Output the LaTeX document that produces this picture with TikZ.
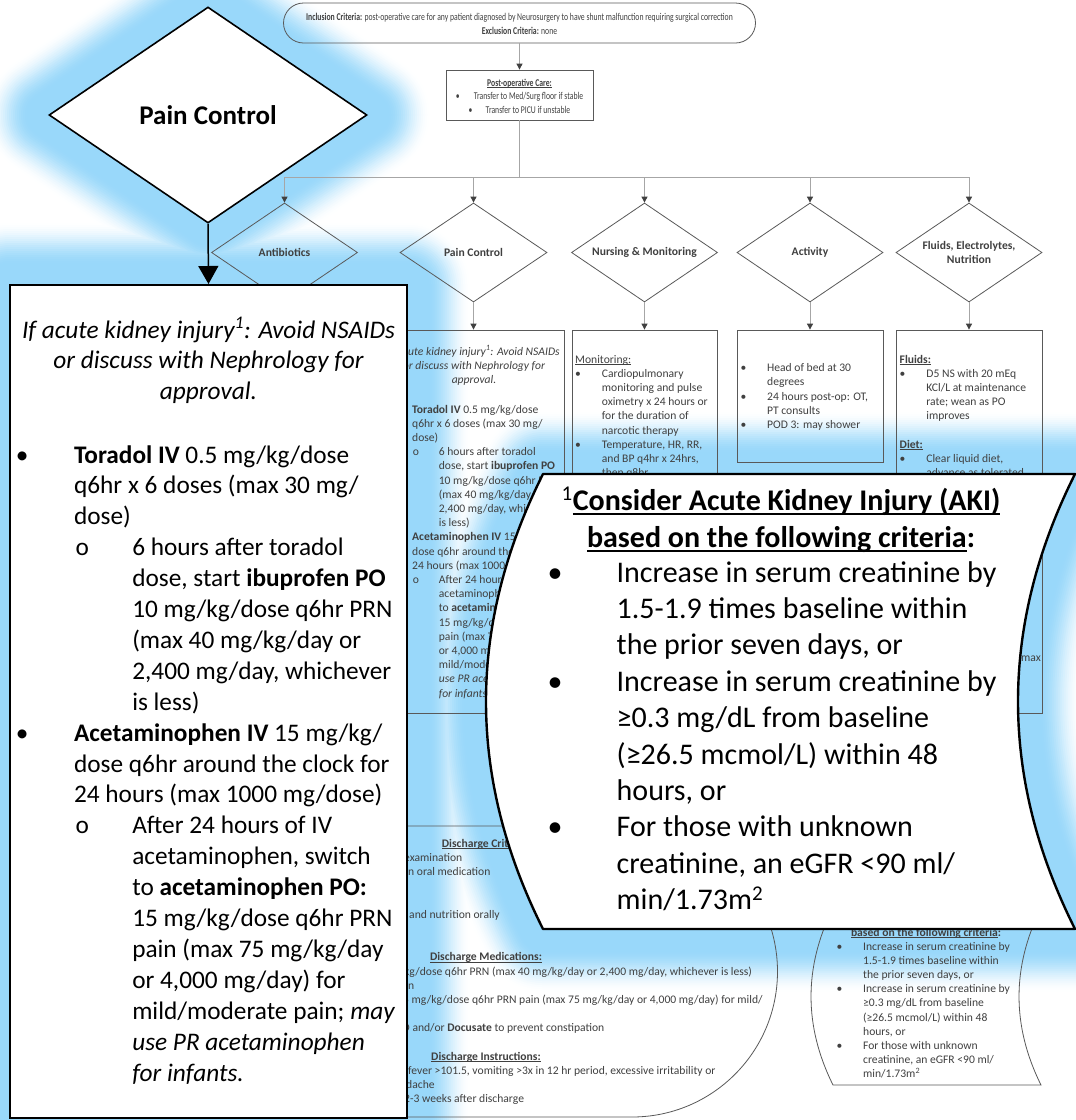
\documentclass[tikz,border=0pt]{standalone}
\usepackage{fontspec}
\setmainfont{Carlito}
\newfontfamily\narrowf[FakeStretch=0.74]{Carlito}
\usetikzlibrary{arrows.meta,shapes.geometric}
\definecolor{glowc}{RGB}{153,216,250}
\definecolor{txtc}{RGB}{64,64,64}
\definecolor{bordc}{RGB}{89,89,89}
\definecolor{connc}{RGB}{166,166,166}

\newcommand\xBu{\makebox[2.3em][l]{\textbullet}}
\newcommand\xIn{\hspace*{2.3em}}
\newcommand\xOo{\hspace*{2.36em}\makebox[2.24em][l]{o}}
\newcommand\xJn{\hspace*{4.6em}}
\newcommand\ulx[1]{\leavevmode\setbox0\hbox{#1}\rlap{\rule[-0.17em]{\wd0}{0.07em}}\box0}
\newcommand\tblock[6]{\foreach \xtl [count=\xti] in #6 {\node[#1] (#2\xti) at (#3,{#4+(\xti-1)*(#5)}) {\xtl};}}

\newcommand\painhead{{If acute kidney injury\textsuperscript{1}: Avoid NSAIDs},{or discuss with Nephrology for},{approval.}}
\newcommand\painlist{{\xBu\textbf{Toradol IV} 0.5 mg/kg/dose},{\xIn q6hr x 6 doses (max 30 mg/},{\xIn dose)},{\xOo 6 hours after toradol},{\xJn dose, start \textbf{ibuprofen PO}},{\xJn 10 mg/kg/dose q6hr PRN},{\xJn (max 40 mg/kg/day or},{\xJn 2,400 mg/day, whichever},{\xJn is less)},{\xBu\textbf{Acetaminophen IV} 15 mg/kg/},{\xIn dose q6hr around the clock for},{\xIn 24 hours (max 1000 mg/dose)},{\xOo After 24 hours of IV},{\xJn acetaminophen, switch},{\xJn to \textbf{acetaminophen PO:}},{\xJn 15 mg/kg/dose q6hr PRN},{\xJn pain (max 75 mg/kg/day},{\xJn or 4,000 mg/day) for},{\xJn mild/moderate pain; \textit{may}},{\xJn \textit{use PR acetaminophen}},{\xJn \textit{for infants.}}}
\newcommand\akihead{{\textsuperscript{1}\ulx{\textbf{Consider Acute Kidney Injury (AKI)}}},{\ulx{\textbf{based on the following criteria}}\textbf{:}}}
\newcommand\akilist{{\xBu Increase in serum creatinine by},{\xIn 1.5-1.9 times baseline within},{\xIn the prior seven days, or},{\xBu Increase in serum creatinine by},{\xIn ≥0.3 mg/dL from baseline},{\xIn (≥26.5 mcmol/L) within 48},{\xIn hours, or},{\xBu For those with unknown},{\xIn creatinine, an eGFR <90 ml/},{\xIn min/1.73m\textsuperscript{2}}}
\newcommand\nurslist{{\ulx{Monitoring:}},{\xBu Cardiopulmonary},{\xIn monitoring and pulse},{\xIn oximetry x 24 hours or},{\xIn for the duration of},{\xIn narcotic therapy},{\xBu Temperature, HR, RR,},{\xIn and BP q4hr x 24hrs,},{\xIn then q8hr}}
\newcommand\actlist{{\xBu Head of bed at 30},{\xIn degrees},{\xBu 24 hours post-op: OT,},{\xIn PT consults},{\xBu POD 3: may shower}}
\newcommand\fluidlist{{\ulx{\textbf{Fluids:}}},{\xBu D5 NS with 20 mEq},{\xIn KCl/L at maintenance},{\xIn rate; wean as PO},{\xIn improves}}
\newcommand\dietlist{{\ulx{\textbf{Diet:}}},{\xBu Clear liquid diet,},{\xIn advance as tolerated}}

\newcommand\gDiam{(208,7) -- (367,115) -- (208,223) -- (49,115) -- cycle}
\newcommand\gBox{(10,285) rectangle (407,1118)}
\newcommand\gCall{(543,474) -- (1075,474) .. controls (999,625.7) and (999,777.3) .. (1075,929) -- (543,929) .. controls (467,777.3) and (467,625.7) .. (543,474) -- cycle}

\tikzset{
 sm/.style={font=\fontsize{11.6}{14.2}\selectfont, text=txtc, inner sep=0pt, anchor=base west},
 smc/.style={sm, anchor=base},
 smi/.style={smc, font=\fontsize{11.6}{14.2}\selectfont\itshape},
 bigt/.style={font=\fontsize{25.3}{30.9}\selectfont, text=black, inner sep=0pt, anchor=base west},
 bigi/.style={bigt, anchor=base, font=\fontsize{25.3}{30.9}\selectfont\itshape},
 calt/.style={font=\fontsize{30}{36.4}\selectfont, text=black, inner sep=0pt, anchor=base west},
 calh/.style={calt, anchor=base},
 nar/.style={font=\narrowf\fontsize{10.4}{13}\selectfont, text=txtc, inner sep=0pt, anchor=base},
 fbox/.style={draw=bordc, line width=0.8pt, inner sep=0pt},
 dmd/.style={shape=diamond, draw=bordc, line width=0.8pt, minimum width=146pt, minimum height=99pt, inner sep=0pt},
 dlab/.style={font=\fontsize{11.6}{14.2}\selectfont\bfseries, text=txtc, align=center, inner sep=0pt},
 connl/.style={draw=connc, line width=0.9pt},
 conn/.style={connl, -{Triangle[width=6pt,length=6pt,color=txtc]}},
 bigdmd/.style={shape=diamond, draw=black, fill=white, line width=1.6pt, minimum width=318pt, minimum height=216pt, inner sep=0pt},
 bigbox/.style={draw=black, fill=white, line width=2pt, minimum width=397pt, minimum height=833pt, inner sep=0pt},
 bigarr/.style={draw=black, line width=1.5pt, -{Triangle[width=20pt,length=18pt]}},
 callout/.style={draw=black, fill=white, line width=2.4pt, line join=round},
}

\begin{document}
\begin{tikzpicture}[x=1pt,y=-1pt]
\useasboundingbox (0,0) rectangle (1076,1120);
\clip (0,0) rectangle (1076,1120);
\fill[white] (0,0) rectangle (1076,1120);

% glow (smooth union halo, light to dark)
\foreach \d in {64,62,...,14} {
  \pgfmathsetmacro\gt{min(1,max(0,(64-\d)/42))}
  \pgfmathsetmacro\gc{100*(3*\gt*\gt-2*\gt*\gt*\gt)}
  \draw[glowc!\gc!white, line width=2*\d, line join=round] \gDiam \gBox \gCall;
}

% ---------- background flowchart ----------
\node[fbox, rounded corners=20pt, minimum width=472pt, minimum height=40pt] (top) at (519.5,23) {};
\node[nar] (t1) at (519.5,20) {\textbf{Inclusion Criteria:} post-operative care for any patient diagnosed by Neurosurgery to have shunt malfunction requiring surgical correction};
\node[nar] (t2) at (519.5,34.5) {\textbf{Exclusion Criteria:} none};

\node[fbox, minimum width=147pt, minimum height=50pt] (po) at (519.5,95) {};
\node[nar] (p1) at (519.5,86) {\ulx{\textbf{Post-operative Care:}}};
\node[nar] (p2) at (519.5,99.5) {\makebox[18pt][l]{\textbullet}Transfer to Med/Surg floor if stable};
\node[nar] (p3) at (519.5,113) {\makebox[17pt][l]{\textbullet}Transfer to PICU if unstable};
\draw[conn] (top.south) -- (po.north);

\node[dmd] (d1) at (284.5,252.5) {};
\node[dmd, minimum width=147pt] (d2) at (473.5,252.5) {};
\node[dmd] (d3) at (644.5,252.5) {};
\node[dmd] (d4) at (810,252.5) {};
\node[dmd] (d5) at (969,252.5) {};
\node[dlab] (d1t) at (d1) {Antibiotics};
\node[dlab] (d2t) at (d2) {Pain Control};
\node[dlab] (d3t) at (d3) {Nursing \& Monitoring};
\node[dlab] (d4t) at (d4) {Activity};
\node[dlab] (d5t) at (d5) {Fluids, Electrolytes,\\Nutrition};

\coordinate (bus) at (519.5,177);
\draw[connl] (po.south) -- (po.south |- bus);
\draw[connl] (d1.north |- bus) -- (d5.north |- bus);
\foreach \k in {1,...,5} {\draw[conn] (d\k.north |- bus) -- (d\k.north);}

\node[fbox, minimum width=182pt, minimum height=383pt] (b2) at (473.5,521.5) {};
\node[fbox, minimum width=145pt, minimum height=383pt] (b3) at (644.5,521.5) {};
\node[fbox, minimum width=146pt, minimum height=132pt] (b4) at (810,396) {};
\node[fbox, minimum width=146pt, minimum height=383pt] (b5) at (969,521.5) {};
\foreach \k in {2,...,5} {\draw[conn] (d\k.south) -- (b\k.north);}

\tblock{smi}{ph}{474}{355}{14.2}{\painhead}
\tblock{sm}{pl}{385.3}{413}{14.2}{\painlist}
\tblock{sm}{nl}{575}{363}{14.2}{\nurslist}
\tblock{sm}{al}{740.3}{371.7}{14.2}{\actlist}
\tblock{sm}{fl}{899.5}{363}{14.2}{\fluidlist}
\tblock{sm}{fd}{899.5}{448.2}{14.2}{\dietlist}
\node[sm, anchor=base east] (fmax) at (1041,661) {max};

% discharge shape
\draw[draw=bordc, line width=0.8pt] (300,826) -- (632,826) arc[start angle=-90, end angle=90, radius=145.5] -- (300,1117);
\node[smc] (qh1) at (486,847) {\ulx{\textbf{Discharge Criteria:}}};
\node[sm] (q1) at (404,861.2) {examination};
\node[sm] (q2) at (408,875.4) {n oral medication};
\node[sm] (q3) at (409,918) {and nutrition orally};
\node[smc] (qh2) at (486,960.8) {\ulx{\textbf{Discharge Medications:}}};
\node[sm] (q4) at (404,975) {kg/dose q6hr PRN (max 40 mg/kg/day or 2,400 mg/day, whichever is less)};
\node[sm] (q5) at (408,989.2) {n};
\node[sm] (q6) at (403,1003.4) {5 mg/kg/dose q6hr PRN pain (max 75 mg/kg/day or 4,000 mg/day) for mild/};
\node[sm] (q7) at (402,1031.8) {O and/or \textbf{Docusate} to prevent constipation};
\node[smc] (qh3) at (486,1060) {\ulx{\textbf{Discharge Instructions:}}};
\node[sm] (q8) at (408,1074.2) {fever >101.5, vomiting >3x in 12 hr period, excessive irritability or};
\node[sm] (q9) at (406,1088.4) {dache};
\node[sm] (q10) at (404,1102.6) {2-3 weeks after discharge};

% small AKI footnote shape
\draw[draw=bordc, line width=0.8pt] (833,908) -- (1041,908) .. controls (1011.7,967) and (1011.7,1026) .. (1041,1085) -- (833,1085) .. controls (803.7,1026) and (803.7,967) .. (833,908) -- cycle;
\tblock{smc}{sh}{926}{922}{14.3}{\akihead}
\tblock{sm}{sl}{836.3}{950}{14.2}{\akilist}

% ---------- magnified call-outs ----------
\draw[callout] \gCall;
\tblock{calh}{ch}{781}{510}{37}{\akihead}
\tblock{calt}{cl}{547.5}{582}{36.4}{\akilist}

\node[bigbox] (bb) at (208.5,701.5) {};
\node[bigdmd] (bd) at (208,115) {};
\node[font=\fontsize{27}{32}\selectfont\bfseries, anchor=base, inner sep=0pt] (bdl) at (208,124) {Pain Control};
\draw[bigarr] (bd.south) -- (bb.north);
\tblock{bigi}{bh}{208.5}{338}{30.9}{\painhead}
\tblock{bigt}{bl}{15.7}{463}{30.9}{\painlist}
\end{tikzpicture}
\end{document}
